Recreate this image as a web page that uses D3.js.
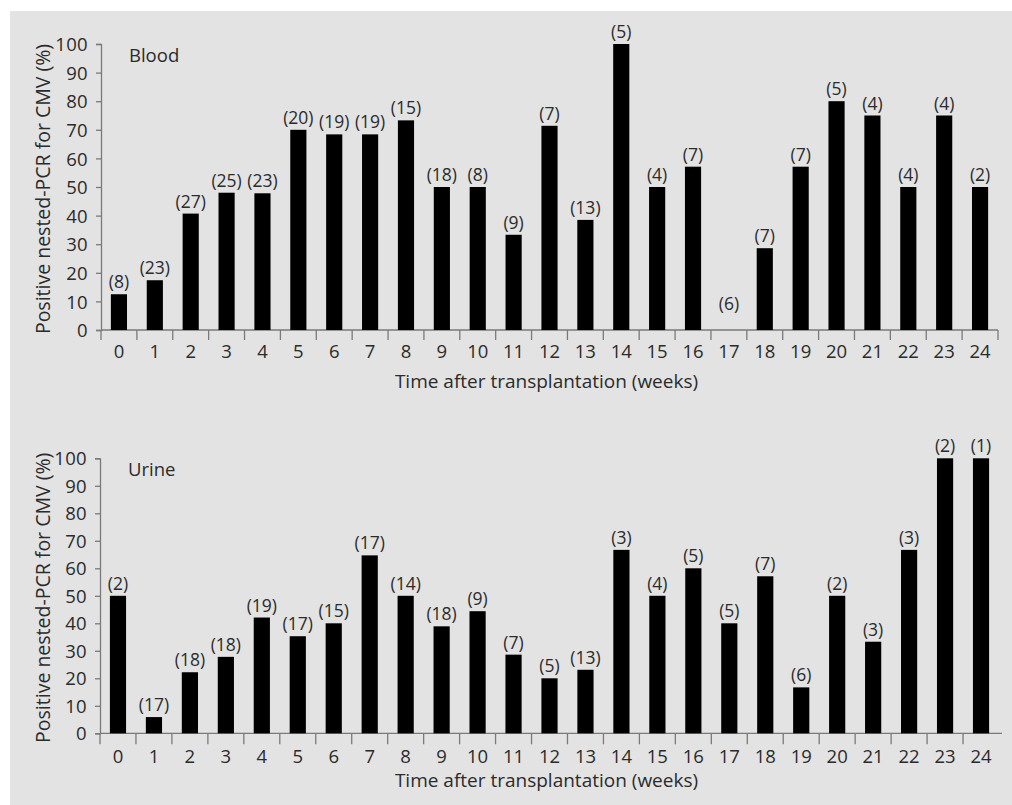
<!DOCTYPE html>
<html><head><meta charset="utf-8">
<script src="https://cdn.jsdelivr.net/npm/d3@7"></script>
<style>
body{margin:0;background:#fff;}
svg text{font-family:"Open Sans",sans-serif;fill:#2b2b2b;}
</style></head>
<body><svg id="c" width="1012" height="805"></svg>
<script>
const weeks = ["0","1","2","3","4","5","6","7","8","9","10","11","12","13","14","15","16","17","18","19","20","21","22","23","24"];
const bloodPct = [12.5,17.4,40.7,48,47.8,70,68.4,68.4,73.3,50,50,33.3,71.4,38.5,100,50,57.1,0,28.6,57.1,80,75,50,75,50];
const bloodN = [8,23,27,25,23,20,19,19,15,18,8,9,7,13,5,4,7,6,7,7,5,4,4,4,2];
const urinePct = [50,5.9,22.2,27.8,42.1,35.3,40,64.7,50,38.9,44.4,28.6,20,23.1,66.7,50,60,40,57.1,16.7,50,33.3,66.7,100,100];
const urineN = [2,17,18,18,19,17,15,17,14,18,9,7,5,13,3,4,5,5,7,6,2,3,3,2,1];
const yTicks = [0,10,20,30,40,50,60,70,80,90,100];
const yTitle = "Positive nested-PCR for CMV (%)";
const xTitle = "Time after transplantation (weeks)";

const svg = d3.select("#c");
svg.append("rect").attr("x",10).attr("y",11).attr("width",1002).attr("height",794).attr("fill","#e3e3e3");

const FS = 18.5, FN = 17.5, FT = 19;
function panel(o){
  const g = svg.append("g");
  const x = d3.scaleBand().domain(weeks).range([o.x0,o.x1]).paddingInner(0.55).paddingOuter(0.275);
  const y = d3.scaleLinear().domain([0,100]).range([o.y0,o.y1]);
  const axisCol = "#7a7a7a";
  const ya = g.append("g").attr("transform",`translate(${o.x0},0)`)
    .call(d3.axisLeft(y).tickValues(yTicks).tickSize(5).tickPadding(8));
  ya.select(".domain").attr("stroke",axisCol).attr("stroke-width",1.3);
  ya.selectAll(".tick line").attr("stroke",axisCol).attr("stroke-width",1.3);
  ya.selectAll(".tick text").attr("font-size",FS).attr("font-family","Open Sans").attr("fill","#2b2b2b").attr("dy","0.36em").style("letter-spacing","0.3px");
  g.append("line").attr("x1",o.x0).attr("x2",o.xEnd).attr("y1",o.y0).attr("y2",o.y0).attr("stroke",axisCol).attr("stroke-width",1.3);
  const nB = o.endTick ? weeks.length+1 : weeks.length;
  g.selectAll(".bt").data(d3.range(nB)).join("line")
    .attr("x1",i=>o.x0 + i*x.step()).attr("x2",i=>o.x0 + i*x.step())
    .attr("y1",o.y0).attr("y2",o.y0+o.tickLen).attr("stroke",axisCol).attr("stroke-width",1.3);
  g.selectAll(".xl").data(weeks).join("text")
    .attr("x",d=>x(d)+x.bandwidth()/2).attr("y",o.y0+o.labDy)
    .attr("text-anchor","middle").attr("font-size",FS).text(d=>d);
  g.selectAll(".bar").data(o.vals).join("rect")
    .attr("x",(d,i)=>x(weeks[i])).attr("width",x.bandwidth())
    .attr("y",d=>y(d)).attr("height",d=>y(0)-y(d)).attr("fill","#000");
  g.selectAll(".nl").data(o.ns).join("text")
    .attr("x",(d,i)=>x(weeks[i])+x.bandwidth()/2)
    .attr("y",(d,i)=> o.vals[i]===0 ? y(0)-20 : y(o.vals[i])-6)
    .attr("text-anchor","middle").attr("font-size",FN).text(d=>`(${d})`);
  g.append("text").attr("x",o.x0+28).attr("y",o.nameY).attr("font-size",FS).text(o.name);
  g.append("text").attr("x",(o.x0+o.x1)/2-3).attr("y",o.titleY).attr("text-anchor","middle").attr("font-size",FT).text(xTitle);
  g.append("text").attr("transform",`translate(${50},${(o.y0+o.y1)/2+2}) rotate(-90)`).attr("text-anchor","middle").attr("font-size",19.5).text(yTitle);
}

panel({name:"Blood",x0:101,x1:998,xEnd:998,y0:330,y1:44,vals:bloodPct,ns:bloodN,endTick:true,tickLen:10,labDy:28,titleY:388,nameY:62});
panel({name:"Urine",x0:100,x1:999,xEnd:1002,y0:733.3,y1:458.3,vals:urinePct,ns:urineN,endTick:false,tickLen:11,labDy:30,titleY:787,nameY:476});
</script></body></html>
